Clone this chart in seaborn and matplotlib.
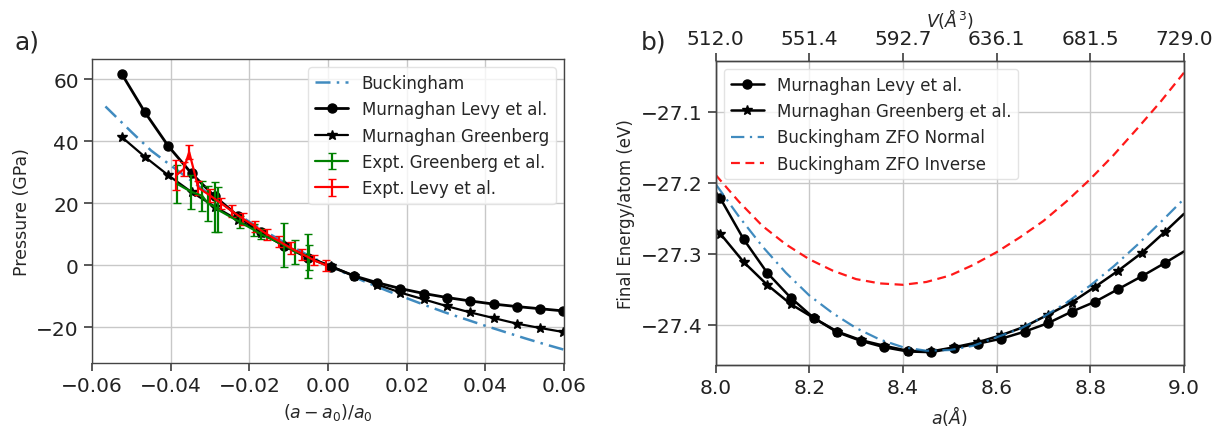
import numpy as np
import pandas as pd
import matplotlib
matplotlib.use("Agg")
import matplotlib.pyplot as plt
import seaborn as sns

# ---------------- data: panel a ----------------
strain_levy = [-0.0525, -0.0466, -0.0406, -0.0347, -0.0288, -0.0229, -0.0170, -0.0111, -0.0052, 0.0007,
               0.0066, 0.0125, 0.0184, 0.0244, 0.0303, 0.0362, 0.0421, 0.0480, 0.0539, 0.0598]
p_murn_levy = [61.8, 49.4, 38.4, 29.6, 22.2, 15.9, 10.6, 6.2, 2.5, -0.4,
               -3.4, -5.6, -7.5, -9.1, -10.4, -11.5, -12.5, -13.3, -14.0, -14.7]
p_murn_green = [41.4, 35.0, 29.0, 23.6, 18.9, 14.6, 10.4, 6.4, 2.8, -0.3,
                -3.4, -6.2, -8.8, -11.0, -13.2, -15.2, -17.0, -18.8, -20.2, -21.5]

strain_buck = [-0.0566, -0.050, -0.045, -0.040, -0.035, -0.030, -0.025, -0.020, -0.015, -0.010, -0.005, 0.000,
               0.005, 0.010, 0.015, 0.020, 0.025, 0.030, 0.035, 0.040, 0.045, 0.050, 0.055, 0.060]
p_buck = [51.2, 43.0, 37.0, 32.2, 27.5, 22.7, 18.2, 14.0, 10.2, 6.6, 3.2, 0.0,
          -2.9, -5.6, -8.2, -10.6, -13.0, -15.3, -17.4, -19.5, -21.5, -23.5, -25.4, -27.2]

expt_green_x = [-0.0383, -0.0348, -0.0320, -0.0305, -0.0287, -0.0280, -0.0225, -0.0187, -0.0170,
                -0.0113, -0.0083, -0.0052, -0.0049]
expt_green_p = [26.2, 23.7, 22.4, 19.9, 18.8, 17.9, 14.0, 11.3, 10.0, 6.6, 4.4, 3.0, 2.6]
expt_green_err = [6.0, 5.4, 4.9, 5.7, 8.1, 7.2, 1.9, 1.9, 1.6, 7.0, 3.9, 7.2, 4.0]

expt_levy_x = [-0.0386, -0.0367, -0.0353, -0.0330, -0.0300, -0.0272, -0.0245, -0.0215, -0.0185,
               -0.0155, -0.0125, -0.0095, -0.0065, -0.0035, -0.0005]
expt_levy_p = [29.0, 31.0, 36.5, 25.0, 22.5, 20.0, 17.5, 14.9, 12.5, 10.0, 7.8, 5.6, 3.6, 1.6, 0.0]
expt_levy_err = [4.8, 2.2, 2.2, 2.2, 2.0, 1.8, 1.8, 1.8, 1.8, 1.8, 1.8, 1.8, 1.8, 1.6, 1.8]

# ---------------- data: panel b ----------------
a_murn = [8.00, 8.01, 8.06, 8.11, 8.16, 8.21, 8.26, 8.31, 8.36, 8.41, 8.46,
          8.51, 8.56, 8.61, 8.66, 8.71, 8.76, 8.81, 8.86, 8.91, 8.96, 9.00]
e_murn_levy = [-27.213, -27.222, -27.280, -27.327, -27.362, -27.391, -27.411, -27.423, -27.432, -27.438, -27.439,
               -27.433, -27.427, -27.420, -27.410, -27.398, -27.382, -27.368, -27.350, -27.332, -27.313, -27.297]
e_murn_green = [-27.266, -27.272, -27.312, -27.344, -27.371, -27.391, -27.410, -27.422, -27.430, -27.437, -27.438,
                -27.432, -27.425, -27.415, -27.403, -27.386, -27.369, -27.347, -27.324, -27.299, -27.269, -27.244]

a_buck = [8.00, 8.05, 8.10, 8.15, 8.20, 8.25, 8.30, 8.35, 8.40, 8.45, 8.50,
          8.55, 8.60, 8.65, 8.70, 8.75, 8.80, 8.85, 8.90, 8.95, 9.00]
e_buck_normal = [-27.202, -27.248, -27.290, -27.327, -27.359, -27.384, -27.405, -27.421, -27.432, -27.437, -27.436,
                 -27.430, -27.418, -27.406, -27.389, -27.369, -27.345, -27.318, -27.288, -27.256, -27.223]
e_buck_inverse = [-27.189, -27.227, -27.261, -27.287, -27.308, -27.324, -27.336, -27.342, -27.344, -27.340, -27.331,
                  -27.316, -27.298, -27.277, -27.254, -27.226, -27.195, -27.161, -27.124, -27.086, -27.045]

a_ticks = [8.0, 8.2, 8.4, 8.6, 8.8, 9.0]
v_tick_labels = ["512.0", "551.4", "592.7", "636.1", "681.5", "729.0"]

# ---------------- style ----------------
sns.set_theme(style="ticks", rc={
    "axes.grid": True,
    "grid.color": "#c8c8c8",
    "grid.linewidth": 1.0,
    "axes.edgecolor": "#444444",
    "axes.linewidth": 1.0,
    "xtick.color": "#444444",
    "ytick.color": "#444444",
    "xtick.labelcolor": "#222222",
    "ytick.labelcolor": "#222222",
})
plt.rcParams["font.family"] = ["DejaVu Sans"]

TICK = 14.5
LEG = 12

fig = plt.figure(figsize=(12.29, 4.27), dpi=100)
axA = fig.add_axes([0.0749, 0.1475, 0.384, 0.712])
axB = fig.add_axes([0.5823, 0.143, 0.381, 0.7125])

blue = "#1f77b4"
dashdot = (0, (6, 2.5, 1, 2.5))

# ---------------- panel a ----------------
sns.lineplot(x=strain_buck, y=p_buck, ax=axA, color=blue, alpha=0.85, linestyle=dashdot,
             linewidth=1.8, label="Buckingham", sort=False)
sns.lineplot(x=strain_levy, y=p_murn_levy, ax=axA, color="black", marker="o", markersize=6.5,
             markeredgecolor="black", markeredgewidth=1,
             linewidth=2, label="Murnaghan Levy et al.", sort=False)
sns.lineplot(x=strain_levy, y=p_murn_green, ax=axA, color="black", marker="*", markersize=7.5,
             markeredgecolor="black", markeredgewidth=1,
             linewidth=1.6, label="Murnaghan Greenberg", sort=False)
axA.errorbar(expt_green_x, expt_green_p, yerr=expt_green_err, color="green", capsize=3,
             linewidth=1.6, elinewidth=1.6, label="Expt. Greenberg et al.")
axA.errorbar(expt_levy_x, expt_levy_p, yerr=expt_levy_err, color="red", capsize=3,
             linewidth=1.6, elinewidth=1.6, label="Expt. Levy et al.")

axA.set_xlim(-0.06, 0.06)
axA.set_ylim(-31.5, 66.5)
axA.set_xticks([-0.06, -0.04, -0.02, 0.0, 0.02, 0.04, 0.06])
axA.set_yticks([-20, 0, 20, 40, 60])
axA.tick_params(labelsize=TICK)
axA.set_xlabel(r"$(a-a_0)/a_0$", fontsize=12.5)
axA.set_ylabel("Pressure (GPa)", fontsize=12.5)
axA.legend(loc="upper right", fontsize=LEG, frameon=True, framealpha=0.8, edgecolor="#dddddd",
           handlelength=2.0)
fig.text(0.012, 0.885, "a)", fontsize=18)

# ---------------- panel b ----------------
sns.lineplot(x=a_murn, y=e_murn_levy, ax=axB, color="black", marker="o", markersize=6.5,
             markeredgecolor="black", markeredgewidth=1,
             markevery=list(range(1, 21)), linewidth=1.8, label="Murnaghan Levy et al.", sort=False)
sns.lineplot(x=a_murn, y=e_murn_green, ax=axB, color="black", marker="*", markersize=7.5,
             markeredgecolor="black", markeredgewidth=1,
             markevery=list(range(1, 21)), linewidth=1.8, label="Murnaghan Greenberg et al.", sort=False)
sns.lineplot(x=a_buck, y=e_buck_normal, ax=axB, color=blue, alpha=0.85, linestyle=dashdot,
             linewidth=1.6, label="Buckingham ZFO Normal", sort=False)
sns.lineplot(x=a_buck, y=e_buck_inverse, ax=axB, color="red", alpha=0.9, linestyle=(0, (4, 2.5)),
             linewidth=1.6, label="Buckingham ZFO Inverse", sort=False)

axB.set_xlim(8.0, 9.0)
axB.set_ylim(-27.457, -27.028)
axB.set_xticks(a_ticks)
axB.set_yticks([-27.4, -27.3, -27.2, -27.1])
axB.tick_params(labelsize=TICK)
axB.set_xlabel(r"$a(\AA)$", fontsize=12.5)
axB.set_ylabel("Final Energy/atom (eV)", fontsize=12)
axB.legend(loc="upper left", fontsize=LEG, frameon=True, framealpha=0.8, edgecolor="#dddddd",
           handlelength=2.0)

axTop = axB.twiny()
axTop.set_xlim(axB.get_xlim())
axTop.set_xticks(a_ticks)
axTop.set_xticklabels(v_tick_labels)
axTop.tick_params(labelsize=TICK)
axTop.grid(False)
axTop.set_xlabel(r"$V(\AA^3)$", fontsize=12.5, labelpad=2)

fig.text(0.521, 0.885, "b)", fontsize=18)

fig.savefig("out.png", dpi=100)
